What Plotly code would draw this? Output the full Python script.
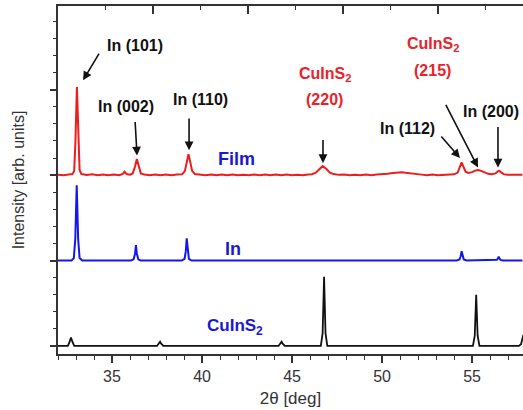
import plotly.graph_objects as go

# ---- data ----
film_x = [32.0, 32.3, 32.6, 32.8, 32.9, 32.97, 33.05, 33.13, 33.2, 33.3, 33.6, 33.9, 34.2, 34.5, 34.8,
          35.1, 35.4, 35.6, 35.7, 35.8, 36.0, 36.15, 36.28, 36.38, 36.48, 36.6, 36.8, 37.1, 37.4, 37.7,
          38.0, 38.3, 38.6, 38.9, 39.05, 39.17, 39.25, 39.33, 39.45, 39.6, 39.9, 40.2, 40.5, 40.8, 41.1,
          41.4, 41.7, 42.0, 42.3, 42.6, 42.9, 43.2, 43.5, 43.8, 44.1, 44.4, 44.7, 45.0, 45.3, 45.6,
          45.9, 46.1, 46.3, 46.5, 46.7, 46.9, 47.1, 47.3, 47.6, 47.9, 48.2, 48.5, 48.8, 49.1, 49.4,
          49.7, 50.0, 50.3, 50.6, 50.9, 51.1, 51.3, 51.6, 51.9, 52.2, 52.5, 52.8, 53.1, 53.4, 53.7,
          54.0, 54.2, 54.32, 54.42, 54.52, 54.64, 54.8, 55.0, 55.2, 55.35, 55.5, 55.7, 55.9, 56.1, 56.3,
          56.4, 56.5, 56.6, 56.75, 56.95, 57.2, 57.5, 57.8]
film_y = [2.005, 1.998, 2.008, 2.012, 2.05, 2.4, 3.03, 2.4, 2.06, 2.012, 2.003, 2.01, 2.0, 2.008, 1.998,
          2.006, 2.0, 2.015, 2.04, 2.012, 2.005, 2.02, 2.1, 2.19, 2.1, 2.02, 2.006, 2.0, 2.008, 2.0,
          2.006, 2.0, 2.008, 2.01, 2.05, 2.17, 2.245, 2.17, 2.05, 2.012, 2.004, 2.0, 2.008, 1.998, 2.006,
          2.0, 2.007, 1.998, 2.005, 1.999, 2.006, 2.0, 2.007, 1.999, 2.006, 2.0, 2.006, 1.998, 2.005, 2.0,
          2.008, 2.01, 2.025, 2.07, 2.105, 2.075, 2.03, 2.012, 2.003, 2.006, 1.998, 2.004, 2.0, 2.006, 2.0,
          2.008, 2.01, 2.016, 2.024, 2.032, 2.034, 2.028, 2.018, 2.01, 2.006, 2.0, 2.006, 1.999, 2.005, 2.003,
          2.01, 2.03, 2.1, 2.15, 2.1, 2.04, 2.025, 2.035, 2.055, 2.06, 2.05, 2.03, 2.015, 2.01, 2.02,
          2.04, 2.052, 2.035, 2.012, 2.004, 2.006, 2.0, 2.005]

in_x = [32.0, 32.75, 32.88, 32.96, 33.04, 33.12, 33.2, 33.35, 36.05, 36.2, 36.28, 36.33, 36.38, 36.46,
        36.6, 38.88, 39.03, 39.1, 39.15, 39.2, 39.27, 39.42, 54.15, 54.3, 54.37, 54.42, 54.47, 54.54,
        54.7, 56.25, 56.38, 56.44, 56.48, 56.52, 56.58, 56.72, 57.8]
in_y = [1.0, 1.0, 1.03, 1.25, 1.88, 1.25, 1.03, 1.0, 1.0, 1.015, 1.08, 1.18, 1.08, 1.015,
        1.0, 1.0, 1.02, 1.11, 1.26, 1.11, 1.02, 1.0, 1.0, 1.012, 1.05, 1.11, 1.05, 1.012,
        1.0, 1.0, 1.008, 1.025, 1.045, 1.025, 1.008, 1.0, 1.0]

cis_x = [32.0, 32.55, 32.65, 32.72, 32.8, 32.9, 37.5, 37.62, 37.67, 37.72, 37.85, 44.25, 44.37, 44.42,
         44.47, 44.6, 46.6, 46.7, 46.78, 46.86, 46.96, 55.05, 55.15, 55.23, 55.31, 55.41, 57.6, 57.72,
         57.85]
cis_y = [0.0, 0.0, 0.05, 0.1, 0.05, 0.0, 0.0, 0.03, 0.05, 0.03, 0.0, 0.0, 0.03, 0.05,
         0.03, 0.0, 0.0, 0.15, 0.81, 0.15, 0.0, 0.0, 0.12, 0.6, 0.12, 0.0, 0.0, 0.02,
         0.13]

bottom_major = [35, 40, 45, 50, 55]
top_major = [37.28, 42.55, 47.82, 53.09]
top_minor = [34.64, 39.92, 45.18, 50.45, 55.72]

# annotation labels: (text, x, y, color, size)
labels = [
    ("<b>In (101)</b>", 36.28, 3.52, "#111111", 16),
    ("<b>In (002)</b>", 35.78, 2.80, "#111111", 16),
    ("<b>In (110)</b>", 39.94, 2.89, "#111111", 16),
    ("<b>Film</b>", 41.94, 2.19, "#1a1acc", 18),
    ("<b>In</b>", 41.72, 1.13, "#1a1acc", 18),
    ("<b>CuInS<sub>2</sub></b>", 41.83, 0.22, "#1a1acc", 17),
    ("<b>CuInS<sub>2</sub></b>", 46.83, 3.18, "#e8232b", 16),
    ("<b>(220)</b>", 46.83, 2.89, "#e8232b", 16),
    ("<b>CuInS<sub>2</sub></b>", 52.83, 3.53, "#e8232b", 16),
    ("<b>(215)</b>", 52.83, 3.23, "#e8232b", 16),
    ("<b>In (112)</b>", 51.39, 2.55, "#111111", 16),
    ("<b>In (200)</b>", 56.06, 2.74, "#111111", 16),
]
# arrows: (tail_x, tail_y, head_x, head_y)
arrows = [
    (34.33, 3.44, 33.39, 3.11),
    (36.28, 2.64, 36.39, 2.23),
    (39.28, 2.68, 39.28, 2.29),
    (46.72, 2.43, 46.72, 2.14),
    (53.22, 2.47, 54.33, 2.20),
    (53.50, 2.84, 55.33, 2.09),
    (56.44, 2.58, 56.44, 2.09),
]

fig = go.Figure()
fig.add_trace(go.Scatter(x=cis_x, y=cis_y, mode="lines", line=dict(color="#111111", width=1.8),
                         showlegend=False, hoverinfo="skip"))
fig.add_trace(go.Scatter(x=in_x, y=in_y, mode="lines", line=dict(color="#1515f0", width=2),
                         showlegend=False, hoverinfo="skip"))
fig.add_trace(go.Scatter(x=film_x, y=film_y, mode="lines", line=dict(color="#ee1c1c", width=2),
                         showlegend=False, hoverinfo="skip"))
# invisible trace to activate top axis
fig.add_trace(go.Scatter(x=[32], y=[0], xaxis="x2", mode="markers", marker=dict(opacity=0),
                         showlegend=False, hoverinfo="skip"))

for t, x, y, c, s in labels:
    fig.add_annotation(x=x, y=y, text=t, showarrow=False, xanchor="center", yanchor="middle",
                       font=dict(family="Liberation Sans, Arial", size=s, color=c))
for tx, ty, hx, hy in arrows:
    fig.add_annotation(x=hx, y=hy, ax=tx, ay=ty, axref="x", ayref="y", text="", showarrow=True,
                       arrowhead=2, arrowsize=1.1, arrowwidth=1.6, arrowcolor="#111111")

xr = [32, 57.83]
fig.update_layout(
    width=523, height=410,
    margin=dict(l=58, r=0, t=6, b=56, autoexpand=False),
    paper_bgcolor="white", plot_bgcolor="white",
    font=dict(family="Liberation Sans, Arial", size=16, color="#333333"),
    xaxis=dict(range=xr, automargin=False, showgrid=False, zeroline=False, showline=True,
               linecolor="#333333", linewidth=1.5, ticks="outside", ticklen=7, tickwidth=1.5,
               tickcolor="#333333", tickmode="array", tickvals=bottom_major,
               tickfont=dict(size=16, color="#333333"),
               minor=dict(dtick=1, tick0=32, ticks="outside", ticklen=4, tickwidth=1.3,
                          tickcolor="#333333", showgrid=False),
               title=dict(text="2θ [deg]", font=dict(size=17, color="#333333"), standoff=8)),
    xaxis2=dict(range=xr, automargin=False, overlaying="x", side="top", showgrid=False,
                zeroline=False, showline=True, linecolor="#333333", linewidth=1.5, ticks="inside",
                ticklen=8, tickwidth=1.5, tickcolor="#333333", tickmode="array",
                tickvals=top_major, showticklabels=False,
                minor=dict(tickmode="array", tickvals=top_minor, ticks="inside", ticklen=4,
                           tickwidth=1.3, tickcolor="#333333", showgrid=False)),
    yaxis=dict(range=[-0.094, 3.98], automargin=False, showgrid=False, zeroline=False,
               showline=True, linecolor="#333333", linewidth=1.5, ticks="outside", ticklen=6,
               tickwidth=1.5, tickcolor="#333333", tickmode="array", tickvals=[0, 1, 2, 3],
               showticklabels=False,
               minor=dict(dtick=0.2, tick0=0, ticks="outside", ticklen=3, tickwidth=1.3,
                          tickcolor="#333333", showgrid=False),
               title=dict(text="Intensity [arb. units]", font=dict(size=16, color="#333333"),
                          standoff=22)),
)

fig.write_html("out.html", config={"displayModeBar": False},
               post_script="document.body.style.margin='0';")
